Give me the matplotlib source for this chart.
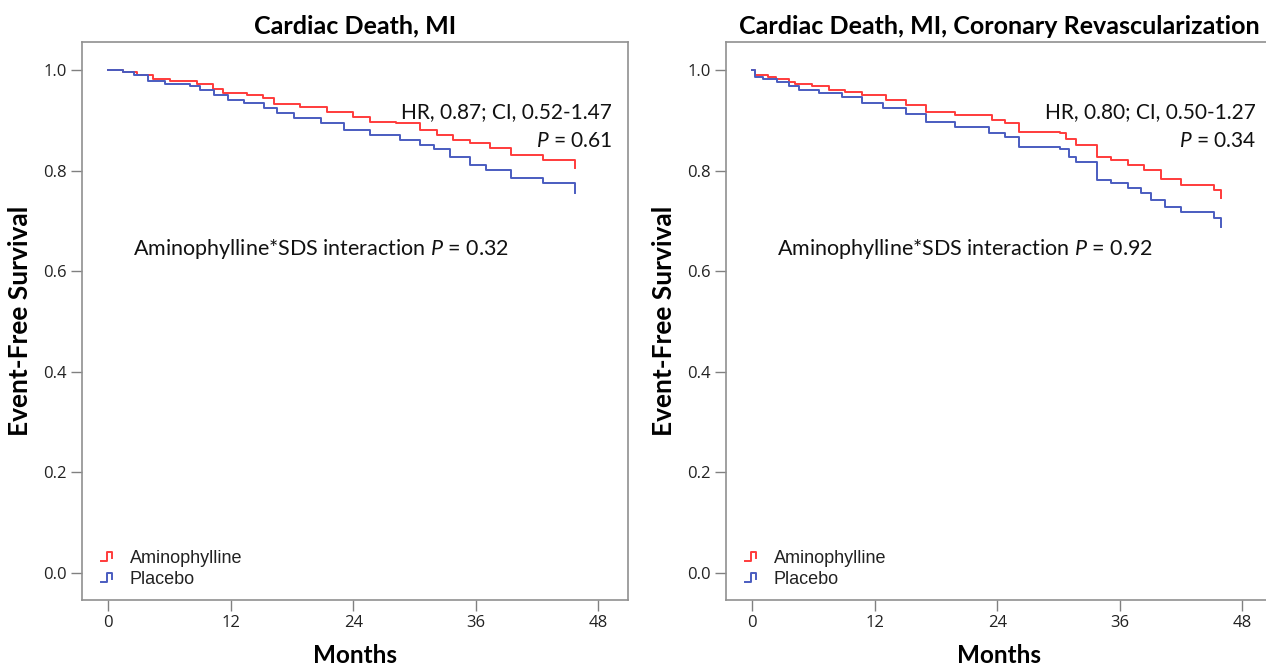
import numpy as np
import matplotlib.pyplot as plt
from matplotlib.lines import Line2D
from matplotlib.legend_handler import HandlerBase

# Kaplan-Meier step data (months, event-free survival)
# Panel 1: Cardiac Death, MI
t_amino_1 = [0, 1.5, 2.8, 4.4, 6.1, 8.7, 10.3, 11.3, 13.6, 15.2, 16.2, 18.8, 21.4, 24.0,
             25.6, 28.2, 30.5, 32.2, 33.8, 35.4, 37.4, 39.4, 42.6, 45.7]
s_amino_1 = [1.0, 0.997, 0.990, 0.982, 0.979, 0.973, 0.962, 0.954, 0.950, 0.944, 0.932, 0.927,
             0.917, 0.907, 0.897, 0.894, 0.881, 0.871, 0.861, 0.855, 0.845, 0.831, 0.821, 0.805]
t_plac_1 = [0, 1.5, 2.5, 3.9, 5.6, 8.0, 9.0, 10.4, 11.7, 13.3, 15.3, 16.5, 18.2, 20.8, 23.1,
            25.6, 28.6, 30.5, 31.9, 33.5, 35.4, 37.0, 39.4, 42.6, 45.7]
s_plac_1 = [1.0, 0.997, 0.990, 0.979, 0.972, 0.968, 0.960, 0.950, 0.940, 0.934, 0.924, 0.915,
            0.904, 0.894, 0.881, 0.871, 0.861, 0.852, 0.843, 0.828, 0.811, 0.801, 0.785, 0.775, 0.755]

# Panel 2: Cardiac Death, MI, Coronary Revascularization
t_amino_2 = [0, 0.3, 1.6, 2.3, 3.6, 4.2, 5.9, 7.5, 9.1, 10.8, 13.1, 15.1, 17.0, 19.9, 23.5,
             24.8, 26.1, 30.1, 30.7, 31.7, 33.8, 35.1, 36.8, 38.4, 40.0, 42.0, 45.2, 45.9]
s_amino_2 = [1.0, 0.990, 0.987, 0.983, 0.977, 0.972, 0.968, 0.961, 0.957, 0.950, 0.940, 0.930,
             0.917, 0.910, 0.901, 0.894, 0.877, 0.874, 0.864, 0.852, 0.828, 0.821, 0.811, 0.801,
             0.784, 0.771, 0.761, 0.745]
t_plac_2 = [0, 0.3, 1.1, 2.4, 3.6, 4.6, 6.6, 8.8, 10.8, 12.8, 15.1, 17.0, 19.9, 23.2, 24.8,
            26.1, 30.1, 31.0, 31.7, 33.8, 35.1, 36.8, 38.1, 39.1, 40.4, 42.0, 45.2, 45.9]
s_plac_2 = [1.0, 0.987, 0.983, 0.977, 0.968, 0.961, 0.954, 0.947, 0.934, 0.924, 0.912, 0.897,
            0.887, 0.874, 0.868, 0.847, 0.844, 0.828, 0.818, 0.781, 0.775, 0.765, 0.755, 0.742,
            0.728, 0.718, 0.705, 0.688]

titles = ['Cardiac Death, MI', 'Cardiac Death, MI, Coronary Revascularization']
hr_text = ['HR, 0.87; CI, 0.52-1.47', 'HR, 0.80; CI, 0.50-1.27']
p_text = ['0.61', '0.34']
inter_p = ['0.32', '0.92']
labels = ['Aminophylline', 'Placebo']
x_ticks = [0, 12, 24, 36, 48]
y_ticks = [0.0, 0.2, 0.4, 0.6, 0.8, 1.0]

RED = '#ff3b3b'
BLUE = '#4a5cc0'

plt.rcParams['mathtext.fontset'] = 'custom'
plt.rcParams['mathtext.rm'] = 'Lato'
plt.rcParams['mathtext.it'] = 'Lato:italic'
plt.rcParams['mathtext.bf'] = 'Lato:bold'


class StepHandler(HandlerBase):
    # small step-shaped legend icon, like SPSS survival plots
    def create_artists(self, legend, orig_handle, xdescent, ydescent, width, height, fontsize, trans):
        xs = np.array([0, 0.5, 0.5, 1.0, 1.0]) * width - xdescent
        ys = np.array([0.1, 0.1, 0.9, 0.9, 0.35]) * height - ydescent
        ln = Line2D(xs, ys, color=orig_handle.get_color(), lw=1.4, transform=trans)
        return [ln]


fig = plt.figure(figsize=(12.66, 6.66), dpi=100)
ax_w = 546 / 1266
ax_h = 558 / 666
ax1 = fig.add_axes([82 / 1266, 66 / 666, ax_w, ax_h])
ax2 = fig.add_axes([726 / 1266, 66 / 666, ax_w, ax_h])

panels = [(ax1, t_amino_1, s_amino_1, t_plac_1, s_plac_1),
          (ax2, t_amino_2, s_amino_2, t_plac_2, s_plac_2)]

for i, (ax, ta, sa, tp, sp) in enumerate(panels):
    la, = ax.step(ta, sa, where='post', color=RED, lw=1.4)
    lp, = ax.step(tp, sp, where='post', color=BLUE, lw=1.4)

    ax.set_xlim(-2.55, 50.9)
    ax.set_ylim(-0.054, 1.056)
    ax.set_xticks(x_ticks)
    ax.set_yticks(y_ticks)
    ax.set_yticklabels(['%.1f' % v for v in y_ticks])
    ax.tick_params(length=8, width=1, color='#808080', labelsize=12,
                   labelcolor='#222222', pad=3)
    for lab in ax.get_xticklabels() + ax.get_yticklabels():
        lab.set_family('Open Sans')
    for sp_ in ax.spines.values():
        sp_.set_color('#909090')
        sp_.set_linewidth(1.2)

    ax.set_title(titles[i], fontsize=18, fontweight='bold', family='Lato', pad=6)
    ax.set_xlabel('Months', fontsize=17.5, fontweight='bold', family='Lato', labelpad=9)
    ax.set_ylabel('Event-Free Survival', fontsize=19, fontweight='bold', family='Lato', labelpad=8)

    ax.text(0.971, 0.875, hr_text[i], transform=ax.transAxes, ha='right', va='center',
            fontsize=15, family='Lato', color='#111111')
    ax.text(0.971, 0.822, '$P$ = ' + p_text[i], transform=ax.transAxes, ha='right', va='center',
            fontsize=15, family='Lato', color='#111111')
    ax.text(0.093, 0.629, 'Aminophylline*SDS interaction $P$ = ' + inter_p[i],
            transform=ax.transAxes, ha='left', va='center',
            fontsize=15.5, family='Lato', color='#111111')

    leg = ax.legend([la, lp], labels, handler_map={Line2D: StepHandler()},
                    loc='lower left', bbox_to_anchor=(0.035, 0.022), borderaxespad=0,
                    borderpad=0, frameon=False, handlelength=0.6, handleheight=0.6,
                    handletextpad=1.0, labelspacing=0.2,
                    prop={'family': 'Liberation Sans', 'size': 13})
    for txt in leg.get_texts():
        txt.set_color('#222222')

fig.savefig('out.png', dpi=100)
